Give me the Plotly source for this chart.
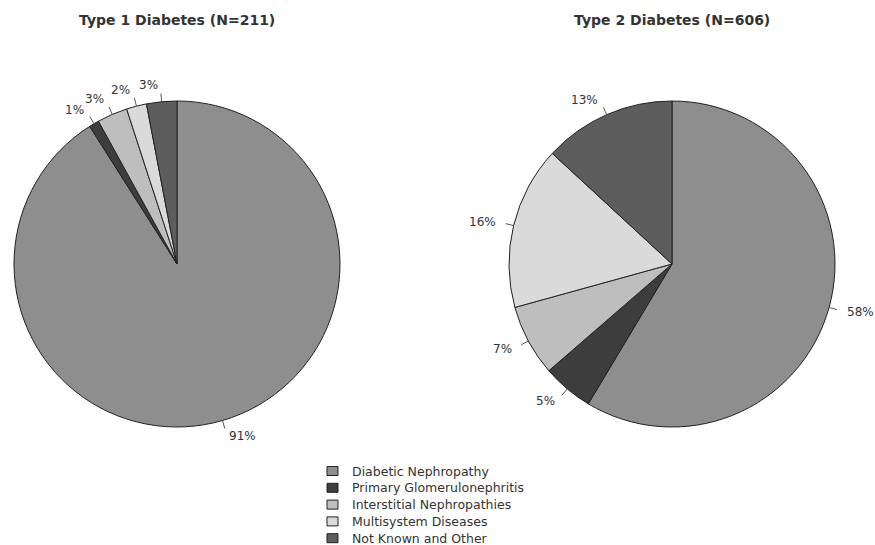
import math
import plotly.graph_objects as go

W, H = 875, 545

categories = ["Diabetic Nephropathy", "Primary Glomerulonephritis",
              "Interstitial Nephropathies", "Multisystem Diseases", "Not Known and Other"]
type1_pct = [91, 1, 3, 2, 3]
type2_pct = [58, 5, 7, 16, 13]
titles = ["Type 1 Diabetes (N=211)", "Type 2 Diabetes (N=606)"]
colors = ["#8e8e8e", "#3d3d3d", "#bebebe", "#dadada", "#5d5d5d"]

# pie geometry in pixels (center x, center y from top, radius)
geoms = [(177, 264, 163), (672, 264, 163)]
TXT = "#333333"
FONT = "DejaVu Sans, Verdana, sans-serif"

fig = go.Figure()
shapes = []
annotations = []
for k, (vals, title, (cx, cy, r)) in enumerate(zip([type1_pct, type2_pct], titles, geoms)):
    fig.add_trace(go.Pie(
        labels=categories, values=vals, sort=False, direction="clockwise", rotation=0,
        marker=dict(colors=colors, line=dict(color="#222222", width=1)),
        textinfo="none", hoverinfo="label+value", showlegend=False,
        domain=dict(x=[(cx - r) / W, (cx + r) / W], y=[1 - (cy + r) / H, 1 - (cy - r) / H]),
    ))
    total = sum(vals)
    cum = 0
    for v in vals:
        th = 2 * math.pi * (cum + v / 2) / total
        cum += v
        sx, sy = math.sin(th), math.cos(th)
        x0, y0 = cx + r * sx, cy - r * sy
        x1, y1 = cx + 1.05 * r * sx, cy - 1.05 * r * sy
        xt, yt = cx + 1.1 * r * sx, cy - 1.1 * r * sy
        shapes.append(dict(type="line", xref="paper", yref="paper",
                           x0=x0 / W, y0=1 - y0 / H, x1=x1 / W, y1=1 - y1 / H,
                           line=dict(color="#555555", width=1)))
        annotations.append(dict(x=xt / W, y=1 - yt / H, xref="paper", yref="paper",
                                text=f"{v}%", showarrow=False,
                                xanchor="right" if sx < 0 else "left", yanchor="middle",
                                font=dict(size=12, color=TXT, family=FONT)))
    annotations.append(dict(x=cx / W, y=1 - 20 / H, xref="paper", yref="paper",
                            text=f"<b>{title}</b>", showarrow=False,
                            xanchor="center", yanchor="middle",
                            font=dict(size=14, color=TXT, family=FONT)))

# legend drawn as keys + labels
for i, (lab, col) in enumerate(zip(categories, colors)):
    yc = 471 + 16.8 * i
    shapes.append(dict(type="rect", xref="paper", yref="paper",
                       x0=327 / W, x1=338 / W, y0=1 - (yc + 4.5) / H, y1=1 - (yc - 4.5) / H,
                       fillcolor=col, line=dict(color="#222222", width=1)))
    annotations.append(dict(x=350 / W, y=1 - yc / H, xref="paper", yref="paper",
                            text=lab, showarrow=False, xanchor="left", yanchor="middle",
                            font=dict(size=12.5, color=TXT, family=FONT)))

fig.update_layout(
    width=W, height=H, margin=dict(l=0, r=0, t=0, b=0),
    paper_bgcolor="white", plot_bgcolor="white",
    font=dict(family=FONT, size=12, color=TXT),
    shapes=shapes, annotations=annotations, showlegend=False,
)

fig.write_html("out.html", config={"displayModeBar": False},
               post_script="document.body.style.margin='0';document.body.style.overflow='hidden';")
